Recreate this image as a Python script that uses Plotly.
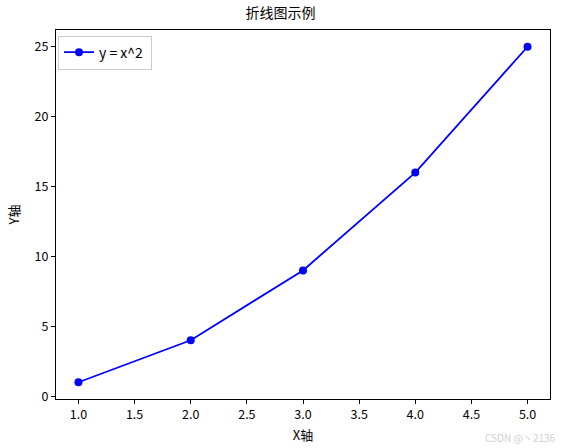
import plotly.graph_objects as go

x_vals = [1, 2, 3, 4, 5]
y_vals = [1, 4, 9, 16, 25]
x_ticks = [1.0, 1.5, 2.0, 2.5, 3.0, 3.5, 4.0, 4.5, 5.0]
y_ticks = [0, 5, 10, 15, 20, 25]

FONT = "Noto Sans CJK SC"

fig = go.Figure()
fig.add_trace(go.Scatter(
    x=x_vals, y=y_vals, mode="lines+markers", name="y = x^2 ",
    line=dict(color="#0000ff", width=1.8),
    marker=dict(color="#0000ff", size=8),
))

axis_common = dict(
    showgrid=False, zeroline=False, showline=True, mirror=True,
    linecolor="black", linewidth=1, ticks="outside", ticklen=4,
    tickcolor="black", tickfont=dict(family=FONT, size=12.5, color="black"),
    automargin=False,
)

fig.update_layout(
    width=561, height=448,
    margin=dict(l=56, r=11, t=30, b=49),
    plot_bgcolor="white", paper_bgcolor="white",
    font=dict(family=FONT, color="black"),
    title=dict(text="折线图示例", x=0.5, xanchor="center", y=0.971, yanchor="middle",
               automargin=False,
               font=dict(family=FONT, size=14, color="black")),
    xaxis=dict(range=[0.8, 5.2], tickvals=x_ticks,
               ticktext=[f"{v:.1f}" for v in x_ticks],
               title=dict(text="X轴", font=dict(family=FONT, size=13), standoff=8),
               **axis_common),
    yaxis=dict(range=[-0.2, 26.2], tickvals=y_ticks,
               title=dict(text="Y轴", font=dict(family=FONT, size=13), standoff=12),
               **axis_common),
    legend=dict(x=0.004, y=0.985, xanchor="left", yanchor="top",
                bgcolor="rgba(255,255,255,0.8)", bordercolor="#cccccc", borderwidth=1,
                font=dict(family=FONT, size=14, color="black")),
    showlegend=True,
)

fig.add_annotation(text="CSDN @丶2136", xref="paper", yref="paper",
                   x=1.0, y=0, xanchor="right", yanchor="middle", yshift=-38, xshift=8,
                   showarrow=False, font=dict(family=FONT, size=10, color="#d0d0d0"))

fig.write_html("out.html", config={"displayModeBar": False},
               post_script="document.body.style.margin='0';")
